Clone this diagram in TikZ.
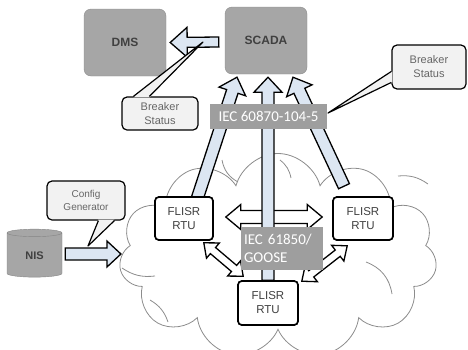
\documentclass[tikz,border=0pt]{standalone}
\usepackage{fontspec}
\setmainfont{Liberation Sans}
\newfontfamily\labelfont{Carlito}
\usetikzlibrary{calc,positioning,shapes.geometric,shapes.symbols}

\definecolor{boxgray}{HTML}{A6A6A6}
\definecolor{taggray}{HTML}{9E9E9E}
\definecolor{notegray}{HTML}{F2F2F2}
\definecolor{arrowblue}{HTML}{DCE6F2}
\definecolor{textgray}{HTML}{404040}
\definecolor{cloudgray}{HTML}{8C8C8C}

% fat arrow: [options]{from}{to}{half shaft}{half head}{head length}
\newcommand{\fatarrow}[6][]{%
  \coordinate (fa-s) at (#2);
  \coordinate (fa-e) at (#3);
  \coordinate (fa-n) at ($(fa-e)!#6!(fa-s)$);
  \draw[blockarrow,#1] ($(fa-s)!#4!90:(fa-e)$) -- ($(fa-n)!#4!-90:(fa-s)$)
    -- ($(fa-n)!#5!-90:(fa-s)$) -- (fa-e) -- ($(fa-n)!#5!90:(fa-s)$)
    -- ($(fa-n)!#4!90:(fa-s)$) -- ($(fa-s)!#4!-90:(fa-e)$) -- cycle;
}
% same with a head at both ends
\newcommand{\dblarrow}[6][]{%
  \coordinate (da-s) at (#2);
  \coordinate (da-e) at (#3);
  \coordinate (da-m) at ($(da-s)!#6!(da-e)$);
  \coordinate (da-n) at ($(da-e)!#6!(da-s)$);
  \draw[blockarrow,fill=white,#1] (da-s) -- ($(da-m)!#5!90:(da-e)$)
    -- ($(da-m)!#4!90:(da-e)$) -- ($(da-n)!#4!-90:(da-s)$)
    -- ($(da-n)!#5!-90:(da-s)$) -- (da-e) -- ($(da-n)!#5!90:(da-s)$)
    -- ($(da-n)!#4!90:(da-s)$) -- ($(da-m)!#4!-90:(da-e)$)
    -- ($(da-m)!#5!-90:(da-e)$) -- cycle;
}

\begin{document}
\begin{tikzpicture}[
        x=1pt, y=-1pt,
        server/.style={
            rectangle,
            rounded corners=7pt,
            fill=boxgray,
            draw=boxgray!85!black,
            minimum width=82pt,
            minimum height=67pt,
            text=textgray,
            font=\fontsize{12}{14}\selectfont\bfseries},
        rtu/.style={
            rectangle,
            rounded corners=4pt,
            fill=white,
            draw=black,
            line width=1.6pt,
            align=center,
            inner sep=0pt,
            text=textgray,
            font=\fontsize{11.5}{14}\selectfont},
        note/.style={
            rectangle,
            rounded corners=5pt,
            fill=notegray,
            draw=black,
            line width=1.2pt,
            align=center,
            inner sep=0pt,
            text=textgray!80,
            font=\fontsize{11}{14}\selectfont},
        pointer/.style={fill=notegray, draw=black, line width=1.2pt, line join=round},
        tag/.style={
            rectangle,
            fill=taggray,
            text=white,
            inner sep=0pt,
            font=\labelfont\fontsize{15}{18}\selectfont},
        blockarrow/.style={fill=arrowblue, draw=black, line width=1.3pt, line join=miter},
        puff/.style={draw=cloudgray, line width=0.8pt},
        ]
        \clip (0,0) rectangle (468,349);

        \node[cloud, draw=cloudgray, line width=0.8pt, cloud puffs=11, aspect=1.55,
              minimum width=318pt, minimum height=205pt] (net) at (278,256) {};
        % inner folds of the cloud
        \draw[puff] (122,268) to[bend right=20] (155,276);
        \draw[puff] (222,160) to[bend right=25] (238,182);
        \draw[puff] (280,160) to[bend left=20] (291,178);
        \draw[puff] (398,176) to[bend left=20] (428,184);
        \draw[puff] (366,262) to[bend left=30] (392,294);
        \draw[puff] (150,300) to[bend left=20] (168,322);

        \node[rtu, minimum width=58pt, minimum height=43pt] (rtul) at (184,218.5) {FLISR\\RTU};
        \node[rtu, minimum width=60pt, minimum height=43pt] (rtur) at (363,218.5) {FLISR\\RTU};
        \node[rtu, minimum width=60pt, minimum height=44pt] (rtub) at (268,303) {FLISR\\RTU};
        \node[server] (dms) at (125,42.5) {DMS};
        \node[server] (scada) at (266,40.5) {SCADA};

        % peer links between the RTUs
        \dblarrow{$(rtul.east)+(12,-1.5)$}{$(rtur.west)+(-10,-1.5)$}{6.5pt}{12.5pt}{15pt}
        \dblarrow{$(rtul.south east)+(-10,2)$}{$(rtub.north west)+(6,-4)$}{4pt}{10pt}{12pt}
        \dblarrow{$(rtub.north east)+(3,1)$}{$(rtur.south west)+(15,5)$}{4pt}{10pt}{12pt}

        % uplinks to SCADA
        \fatarrow{$(rtul.north)+(13,3)$}{$(scada.south)+(-29,3)$}{6pt}{14pt}{15pt}
        \fatarrow{rtub.north}{$(rtub.north |- scada.south)+(0,3)$}{6pt}{14pt}{15pt}
        \fatarrow{$(rtur.north)+(-19,-10)$}{$(scada.south)+(27,3)$}{6pt}{14pt}{15pt}

        \node[rtu, minimum width=58pt, minimum height=43pt] at (rtul) {FLISR\\RTU};
        \node[rtu, minimum width=60pt, minimum height=43pt] at (rtur) {FLISR\\RTU};
        \node[rtu, minimum width=60pt, minimum height=44pt] at (rtub) {FLISR\\RTU};

        \node[tag, minimum width=117pt, minimum height=25pt] (iec104) at (268.5,116.5) {IEC 60870-104-5};
        \node[tag, minimum width=82pt, minimum height=43pt, align=left, text width=76pt]
            (goose) at (282,248.5) {IEC 61850/\\GOOSE};

        \fatarrow{$(scada.west)+(-6,1.5)$}{$(dms.east)+(4,0)$}{5pt}{15pt}{17pt}

        \node[cylinder, shape border rotate=90, aspect=0.3, fill=boxgray, draw=boxgray!80!black,
              minimum width=55pt, minimum height=48pt, text=textgray,
              font=\fontsize{11}{13}\selectfont\bfseries] (nis) at (34.5,256) {NIS};
        \fatarrow{$(nis.east)+(3,-2)$}{$(net.west)+(0,-2)$}{6pt}{13pt}{14pt}

        % callouts
        \node[note, minimum width=76pt, minimum height=33pt] (bsl) at (160,113.5) {Breaker\\Status};
        \node[note, minimum width=74pt, minimum height=44pt] (bsr) at (429,67) {Breaker\\Status};
        \node[note, minimum width=78pt, minimum height=39pt, font=\fontsize{10}{13}\selectfont]
            (cfg) at (86,200.5) {Config\\Generator};
        \coordinate (bsl-tip) at (203,42);
        \coordinate (bsr-tip) at (328,113);
        \coordinate (cfg-tip) at (88,246);
        \fill[notegray] ($(bsl.north west)+(12,1)$) -- (bsl-tip) -- ($(bsl.north west)+(28,1)$) -- cycle;
        \draw[pointer, fill=none] ($(bsl.north west)+(12,0)$) -- (bsl-tip) -- ($(bsl.north west)+(28,0)$);
        \fill[notegray] ($(bsr.north west)+(1,27)$) -- (bsr-tip) -- ($(bsr.north west)+(1,38)$) -- cycle;
        \draw[pointer, fill=none] ($(bsr.north west)+(0,27)$) -- (bsr-tip) -- ($(bsr.north west)+(0,38)$);
        \fill[notegray] ($(cfg.south west)+(52,-1)$) -- (cfg-tip) -- ($(cfg.south west)+(68,-1)$) -- cycle;
        \draw[pointer, fill=none] ($(cfg.south west)+(52,0)$) -- (cfg-tip) -- ($(cfg.south west)+(68,0)$);
        \end{tikzpicture}
\end{document}
